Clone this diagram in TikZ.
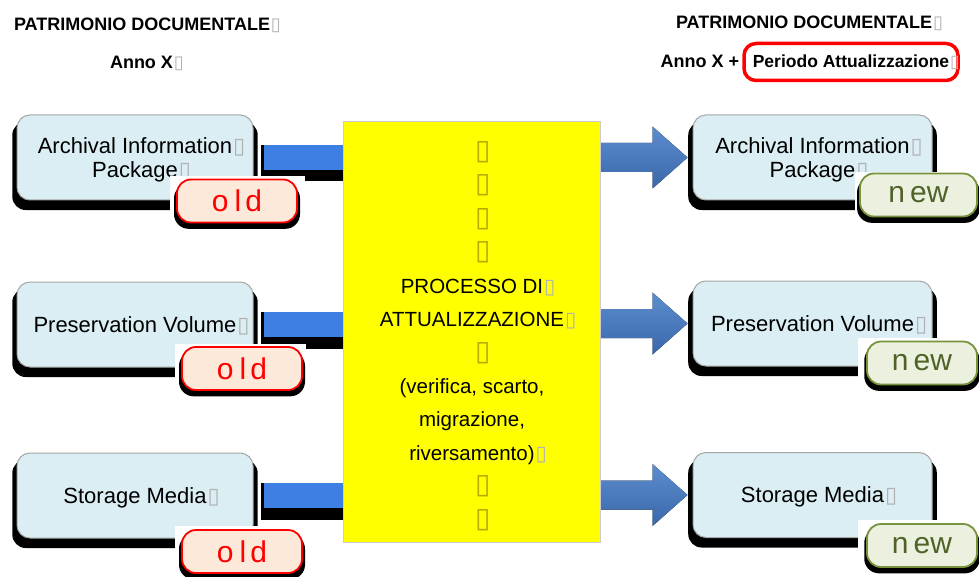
\documentclass[tikz,border=0pt]{standalone}
\usepackage{fontspec}
\setmainfont{Liberation Sans}
\newfontfamily\dv{DejaVu Sans}
\usetikzlibrary{calc,shadows}
\definecolor{boxfill}{HTML}{DAEEF3}
\definecolor{boxline}{HTML}{A6A6A6}
\definecolor{oldfill}{HTML}{FDE9D9}
\definecolor{newfill}{HTML}{EBF1DE}
\definecolor{newline}{HTML}{77933C}
\definecolor{newtext}{HTML}{4F6228}
\definecolor{lblue}{HTML}{3D7FE2}
\definecolor{rtop}{HTML}{5C8DCE}
\definecolor{rbot}{HTML}{3A68AA}
\definecolor{yel}{HTML}{FFFF00}
\definecolor{ndyc}{HTML}{B8A800}
\newcommand\nd{\rlap{\kern1pt{\dv\color{black!30}▯}}}
\newcommand\ndy{\rlap{\kern3pt{\dv\fontsize{28}{28}\selectfont\color{ndyc}▯}}}
\tikzset{
  box/.style={draw=boxline, line width=1pt, fill=boxfill, rounded corners=13pt,
    minimum width=236pt, minimum height=85pt, align=center, text depth=0pt,
    font=\fontsize{22}{23.5}\selectfont,
    drop shadow={shadow xshift=0pt, shadow yshift=-8pt, shadow scale=1.04, fill=black, opacity=1}},
  badge/.style={rounded corners=14pt, line width=1.8pt, minimum height=43pt, inner sep=0pt,
    font=\fontsize{30}{30}\selectfont,
    drop shadow={shadow xshift=0pt, shadow yshift=-5pt, shadow scale=1.05, fill=black, opacity=1}},
  oldb/.style={badge, draw=red, fill=oldfill, text=red, minimum width=120pt},
  newb/.style={badge, draw=newline, fill=newfill, text=newtext, minimum width=117pt},
  cover/.style={fill=white, draw=none},
  title/.style={font=\bfseries\fontsize{18}{20}\selectfont, inner sep=0pt},
  shaft/.style={fill=lblue},
  shadowfill/.style={fill=black},
}
\begin{document}
\begin{tikzpicture}[x=1pt,y=-1pt]
\useasboundingbox[fill=white] (0,0) rectangle (979,577);

% titles
\node[title] (t1) at (142,25) {PATRIMONIO DOCUMENTALE\nd};
\node[title] (a1) at (141.5,63) {Anno X\nd};
\node[title] (t2) at (804,23) {PATRIMONIO DOCUMENTALE\nd};
\node[title, font=\bfseries\fontsize{17.5}{20}\selectfont, draw=red, line width=3.5pt, rounded corners=12pt, minimum width=214pt,
      minimum height=37pt] (P) at (851,62) {Periodo Attualizzazione\nd};
\node[title, anchor=east] (a2) at ($(P.west)+(-3,-1)$) {Anno X +};

% left boxes
\node[box] (L1) at (135,157.5) {Archival Information\nd\\Package\nd};
\node[box] (L2) at (135,324.5) {Preservation Volume\nd};
\node[box] (L3) at (135,495.5) {Storage Media\nd};
% right boxes
\node[box, minimum width=239pt] (R1) at (812.5,157.5) {Archival Information\nd\\Package\nd};
\node[box, minimum width=239pt] (R2) at (812.5,323.5) {Preservation Volume\nd};
\node[box, minimum width=239pt] (R3) at (812.5,495) {Storage Media\nd};

% yellow process box (coordinate for connectors)
\path (472,332) node[minimum width=256pt, minimum height=420pt, inner sep=0pt] (Y) {};

% left shafts
\foreach \i in {1,2,3}{
  \fill[shadowfill] ($(L\i.east)+(7,-12.5)$) rectangle ($(Y.west |- L\i.east)+(10,24)$);
  \fill[shaft] ($(L\i.east)+(10,-12.5)$) rectangle ($(Y.west |- L\i.east)+(10,12.5)$);
}
% right arrows
\foreach \i in {1,2,3}{
  \coordinate (rs\i) at ($(Y.east |- R\i.west)+(-20,0)$);
  \coordinate (rt\i) at ($(R\i.west)+(-5,0)$);
  \begin{scope}[shift={(-4,8)}]
  \fill[shadowfill] ($(rs\i)+(0,-14.5)$) -- ($(rt\i)+(-35,-14.5)$) -- ($(rt\i)+(-35,-31)$) -- (rt\i)
     -- ($(rt\i)+(-35,31)$) -- ($(rt\i)+(-35,14.5)$) -- ($(rs\i)+(0,14.5)$) -- cycle;
  \end{scope}
  \shade[top color=rtop, bottom color=rbot] ($(rs\i)+(0,-14.5)$) -- ($(rt\i)+(-35,-14.5)$) -- ($(rt\i)+(-35,-31)$) -- (rt\i)
     -- ($(rt\i)+(-35,31)$) -- ($(rt\i)+(-35,14.5)$) -- ($(rs\i)+(0,14.5)$) -- cycle;
}

% yellow box
\fill[yel] (Y.south west) rectangle (Y.north east);
\draw[black!20, line width=1pt] (Y.south west) rectangle (Y.north east);
\node[align=center, font=\fontsize{20.5}{33.45}\selectfont, inner sep=0pt] (T) at (472,336)
  {\ndy\\ \ndy\\ \ndy\\ \ndy\\ PROCESSO DI\nd\\ ATTUALIZZAZIONE\nd\\ \ndy\\
   (verifica, scarto,\\ migrazione,\\ riversamento)\nd\\ \ndy\\ \ndy};

% white covers behind badges
\fill[cover] (170,176) rectangle (305,231);
\fill[cover] (175,344) rectangle (306,400);
\fill[cover] (175,526) rectangle (306,577);
\fill[cover] (855,172) rectangle (979,227);
\fill[cover] (858,338) rectangle (979,393);
\fill[cover] (858,520) rectangle (979,577);

% badges
\node[oldb] (O1) at (237,201) {o\kern6pt l\kern4pt d};
\node[oldb] (O2) at (242,368.5) {o\kern6pt l\kern4pt d};
\node[oldb] (O3) at (242,551.5) {o\kern6pt l\kern4pt d};
\node[newb] (N1) at (918.5,195) {n\kern5pt ew};
\node[newb, minimum width=110pt] (N2) at (922,363) {n\kern5pt ew};
\node[newb, minimum width=110pt] (N3) at (922,545.5) {n\kern5pt ew};
\end{tikzpicture}
\end{document}
